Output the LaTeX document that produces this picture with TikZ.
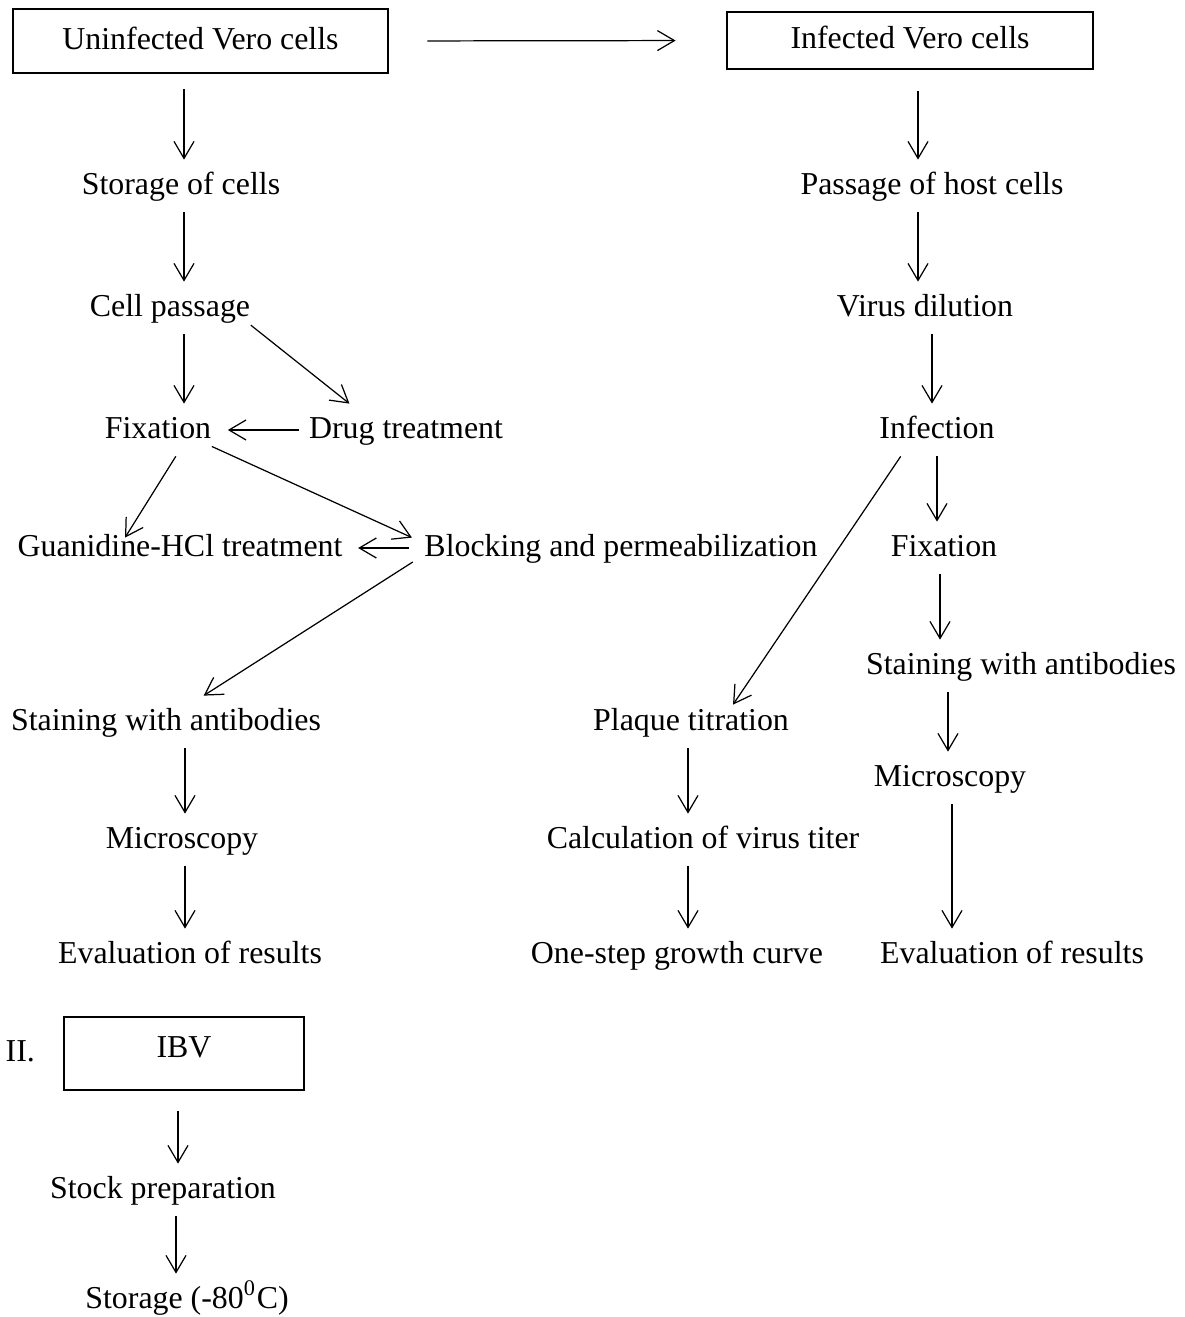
\documentclass[tikz,border=0pt]{standalone}
\usepackage{fontspec}
\setmainfont{Liberation Serif}
\usetikzlibrary{positioning,arrows.meta}

\begin{document}
\begin{tikzpicture}[>={Straight Barb[length=1.7mm,width=2mm]}, every node/.style={font=\fontsize{9.07pt}{11pt}\selectfont}, t/.style={inner xsep=0pt, inner ysep=.095cm, text height=.7em, text depth=.22em}, b/.style={draw, line width=.8pt, inner sep=0pt, text height=.7em, text depth=.22em}, a/.style={line width=.35pt}]
		\useasboundingbox (0,0) rectangle (11.84,-13.17);

		% I. uninfected cells
		\node[b, minimum width=3.75cm, minimum height=.64cm] (uninf) at (2.005,-.41) {Uninfected Vero cells};
		\node[t] (stor) at (1.81,-1.86) {Storage of cells};
		\node[t] (cellp) at (1.70,-3.08) {Cell passage};
		\node[t] (fix) at (1.58,-4.30) {Fixation};
		\node[t] (drug) at (4.06,-4.30) {Drug treatment};
		\node[t] (guan) at (1.80,-5.48) {Guanidine-HCl treatment};
		\node[t] (block) at (6.21,-5.48) {Blocking and permeabilization};
		\node[t] (stainL) at (1.66,-7.22) {Staining with antibodies};
		\node[t] (microL) at (1.82,-8.40) {Microscopy};
		\node[t] (evalL) at (1.90,-9.55) {Evaluation of results};

		% infected cells
		\node[b, minimum width=3.66cm, minimum height=.57cm] (inf) at (9.10,-.405) {Infected Vero cells};
		\node[t] (pass) at (9.32,-1.86) {Passage of host cells};
		\node[t] (virus) at (9.25,-3.08) {Virus dilution};
		\node[t] (infn) at (9.37,-4.30) {Infection};
		\node[t] (fixR) at (9.44,-5.48) {Fixation};
		\node[t] (stainR) at (10.21,-6.66) {Staining with antibodies};
		\node[t] (microR) at (9.50,-7.78) {Microscopy};
		\node[t] (evalR) at (10.12,-9.55) {Evaluation of results};
		\node[t] (plaque) at (6.91,-7.22) {Plaque titration};
		\node[t] (calc) at (7.03,-8.40) {Calculation of virus titer};
		\node[t] (onestep) at (6.77,-9.55) {One-step growth curve};

		% II. virus stock
		\node[b, minimum width=2.40cm, minimum height=.73cm, text depth=.5em] (ibv) at (1.84,-10.535) {IBV};
		\node[t, left=.27cm of ibv] (part2) {II.};
		\node[t] (stock) at (1.63,-11.90) {Stock preparation};
		\node[t] (deep) at (1.87,-13.00) {Storage (-80\textsuperscript{0}C)};


		\path[->, a] (uninf.east) edge[shorten <=.38cm, shorten >=.5cm] (inf.west);
		\path[->, a] (uninf.south -| 1.84,0) edge[shorten <=.15cm] (stor.north -| 1.84,0);
		\path[->, a] (stor.south -| 1.84,0) edge (cellp.north -| 1.84,0);
		\path[->, a] (cellp.south -| 1.84,0) edge (fix.north -| 1.84,0);
		\path[->, a] (cellp.-12) edge (drug.155);
		\path[->, a] (drug.west) edge[shorten <=.09cm, shorten >=.16cm] (fix.east);
		\path[->, a] (fix.-56) edge ([xshift=-.55cm, yshift=-.16cm]guan.north);
		\path[->, a] (fix.-17) edge[shorten >=.13cm] ([yshift=.05cm]block.west);
		\path[->, a] (block.west) edge[shorten <=.15cm, shorten >=.15cm] (guan.east);
		\path[->, a] ([xshift=-.11cm, yshift=-.14cm]block.west) edge (stainL.35);
		\path[->, a] (stainL.south -| 1.85,0) edge (microL.north -| 1.85,0);
		\path[->, a] (microL.south -| 1.85,0) edge (evalL.north -| 1.85,0);

		\path[->, a] (inf.south -| 9.18,0) edge[shorten <=.21cm] (pass.north -| 9.18,0);
		\path[->, a] (pass.south -| 9.18,0) edge (virus.north -| 9.18,0);
		\path[->, a] (virus.south -| 9.32,0) edge (infn.north -| 9.32,0);
		\path[->, a] (infn.south -| 9.37,0) edge (fixR.north -| 9.37,0);
		\path[->, a] (fixR.south -| 9.40,0) edge (stainR.north -| 9.40,0);
		\path[->, a] (stainR.south -| 9.48,0) edge (microR.north -| 9.48,0);
		\path[->, a] (microR.south -| 9.52,0) edge (evalR.north -| 9.52,0);
		\path[->, a] (infn.216) edge ([xshift=.42cm, yshift=-.09cm]plaque.north);
		\path[->, a] (plaque.south -| 6.88,0) edge (calc.north -| 6.88,0);
		\path[->, a] (calc.south -| 6.88,0) edge (onestep.north -| 6.88,0);

		\path[->, a] (ibv.south -| 1.78,0) edge[shorten <=.2cm] (stock.north -| 1.78,0);
		\path[->, a] (stock.south -| 1.76,0) edge (deep.north -| 1.76,0);
	\end{tikzpicture}
\end{document}
